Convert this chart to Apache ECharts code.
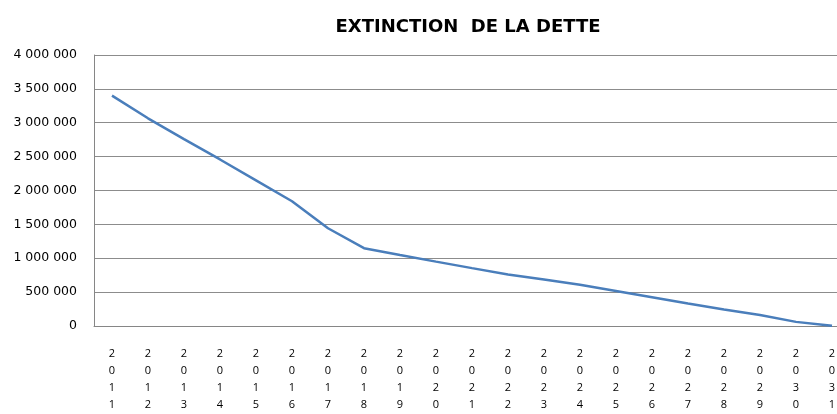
<!DOCTYPE html>
<html>
<head>
<meta charset="utf-8">
<script src="https://cdn.jsdelivr.net/npm/echarts@6/dist/echarts.min.js"></script>
<style>
  html, body { margin: 0; padding: 0; background: #fff; overflow: hidden; }
  /* la zone de tracé dépasse à droite de la fenêtre, comme dans l'original */
  #chart { width: 850px; height: 414px; }
</style>
</head>
<body>
<div id="chart"></div>
<script>
// années (axe X)
var years = ['2011', '2012', '2013', '2014', '2015', '2016', '2017', '2018', '2019', '2020', '2021',
             '2022', '2023', '2024', '2025', '2026', '2027', '2028', '2029', '2030', '2031'];
// capital restant dû
var dette = [3400000, 3065000, 2758000, 2457000, 2148000, 1840000, 1441000, 1147000, 1045000, 948000, 852000,
             758000, 683000, 605000, 515000, 422000, 328000, 240000, 160000, 58000, 0];
var yMin = 0, yMax = 4000000, yStep = 500000;

var myChart = echarts.init(document.getElementById('chart'));

// 4000000 -> "4 000 000"
function espaces(v) {
  return String(v).replace(/\B(?=(\d{3})+(?!\d))/g, ' ');
}

var option = {
  animation: false,
  title: {
    text: 'EXTINCTION  DE LA DETTE',
    left: 463,
    textAlign: 'center',
    top: 12,
    textStyle: { fontFamily: 'DejaVu Sans', fontWeight: 'bold', fontSize: 18, color: '#000', lineHeight: 21 }
  },
  grid: { left: 94, top: 55, right: 0, height: 275 },
  xAxis: {
    type: 'category',
    data: years,
    boundaryGap: true,
    axisLine: { lineStyle: { color: '#868686', width: 1 } },
    axisTick: { show: false },
    axisLabel: {
      interval: 0,
      margin: 19,
      fontFamily: 'Open Sans',
      fontSize: 11,
      lineHeight: 17.3,
      color: '#000',
      formatter: function (v) { return v.split('').join('\n'); }
    }
  },
  yAxis: {
    type: 'value',
    min: yMin,
    max: yMax,
    interval: yStep,
    axisLine: { show: true, lineStyle: { color: '#868686', width: 1 } },
    axisTick: { show: false },
    splitLine: { lineStyle: { color: '#8c8c8c', width: 1 } },
    axisLabel: {
      margin: 17,
      fontFamily: 'DejaVu Sans',
      fontSize: 12.5,
      color: '#000',
      formatter: espaces
    }
  },
  series: [
    {
      name: 'Dette',
      type: 'line',
      data: dette,
      symbol: 'none',
      lineStyle: { color: '#4a7ebb', width: 2.5 }
    }
  ]
};

myChart.setOption(option);
</script>
</body>
</html>
